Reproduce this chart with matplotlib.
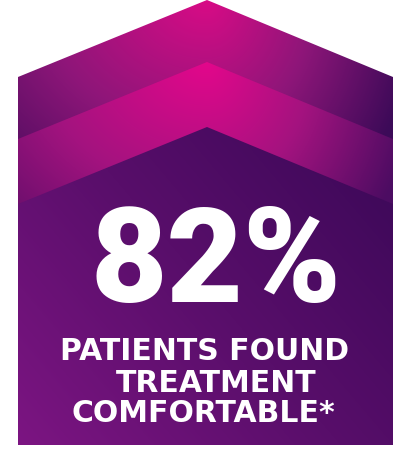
import numpy as np
import matplotlib
matplotlib.use("Agg")
import matplotlib.pyplot as plt
from matplotlib.patches import Polygon
from matplotlib.colors import LinearSegmentedColormap

# data
pct_value = 82
caption_lines = ["PATIENTS FOUND", "TREATMENT", "COMFORTABLE*"]

W, H = 400, 449
fig = plt.figure(figsize=(W / 100, H / 100), dpi=100)
ax = fig.add_axes([0, 0, 1, 1])
ax.set_xlim(0, W)
ax.set_ylim(H, 0)
ax.axis("off")

# house shape + chevrons (pixel coords, y down)
left, right, bottom = 18, 393, 445
apex_x = 207


def chevron(top_y, drop=77):
    return [(left, bottom), (left, top_y + drop), (apex_x, top_y),
            (right, top_y + drop), (right, bottom)]


xx, yy = np.meshgrid(np.arange(W) + 0.5, np.arange(H) + 0.5)


def band_field(top_y):
    dx = xx - apex_x
    sx = np.where(dx < 0, 330.0, 210.0)
    d = np.sqrt((dx / sx) ** 2 + ((yy - top_y) / 260.0) ** 2)
    return np.clip(d, 0, 1)


def inner_field():
    vx, vy = right - left, 127 - bottom
    t = ((xx - left) * vx + (yy - bottom) * vy) / (vx ** 2 + vy ** 2)
    return np.clip(t, 0, 1)


layers = [
    (0, band_field(0), ["#d80b86", "#8e1679", "#3c0a58"]),
    (62, band_field(62), ["#e3078b", "#a3137f", "#4c0c62"]),
    (127, inner_field(), ["#7c1582", "#580e6a", "#3a0857"]),
]

for top_y, field, stops in layers:
    cmap = LinearSegmentedColormap.from_list("g", stops)
    im = ax.imshow(field, cmap=cmap, vmin=0, vmax=1, extent=(0, W, H, 0),
                   interpolation="bilinear", zorder=1)
    poly = Polygon(chevron(top_y), closed=True, facecolor="none",
                   edgecolor="none", transform=ax.transData)
    ax.add_patch(poly)
    im.set_clip_path(poly)

ax.set_xlim(0, W)
ax.set_ylim(H, 0)

ax.text(216, 302, f"{pct_value}%", color="white", fontsize=95,
        fontweight="black", family="Roboto", ha="center", va="baseline",
        zorder=5)

line_x = [204, 216, 203]
line_y = [360, 392, 422]
for txt, x, y in zip(caption_lines, line_x, line_y):
    ax.text(x, y, txt, color="white", fontsize=21.5, fontweight="bold",
            family="DejaVu Sans", ha="center", va="baseline", zorder=5)

fig.savefig("out.png", dpi=100, facecolor="white")
